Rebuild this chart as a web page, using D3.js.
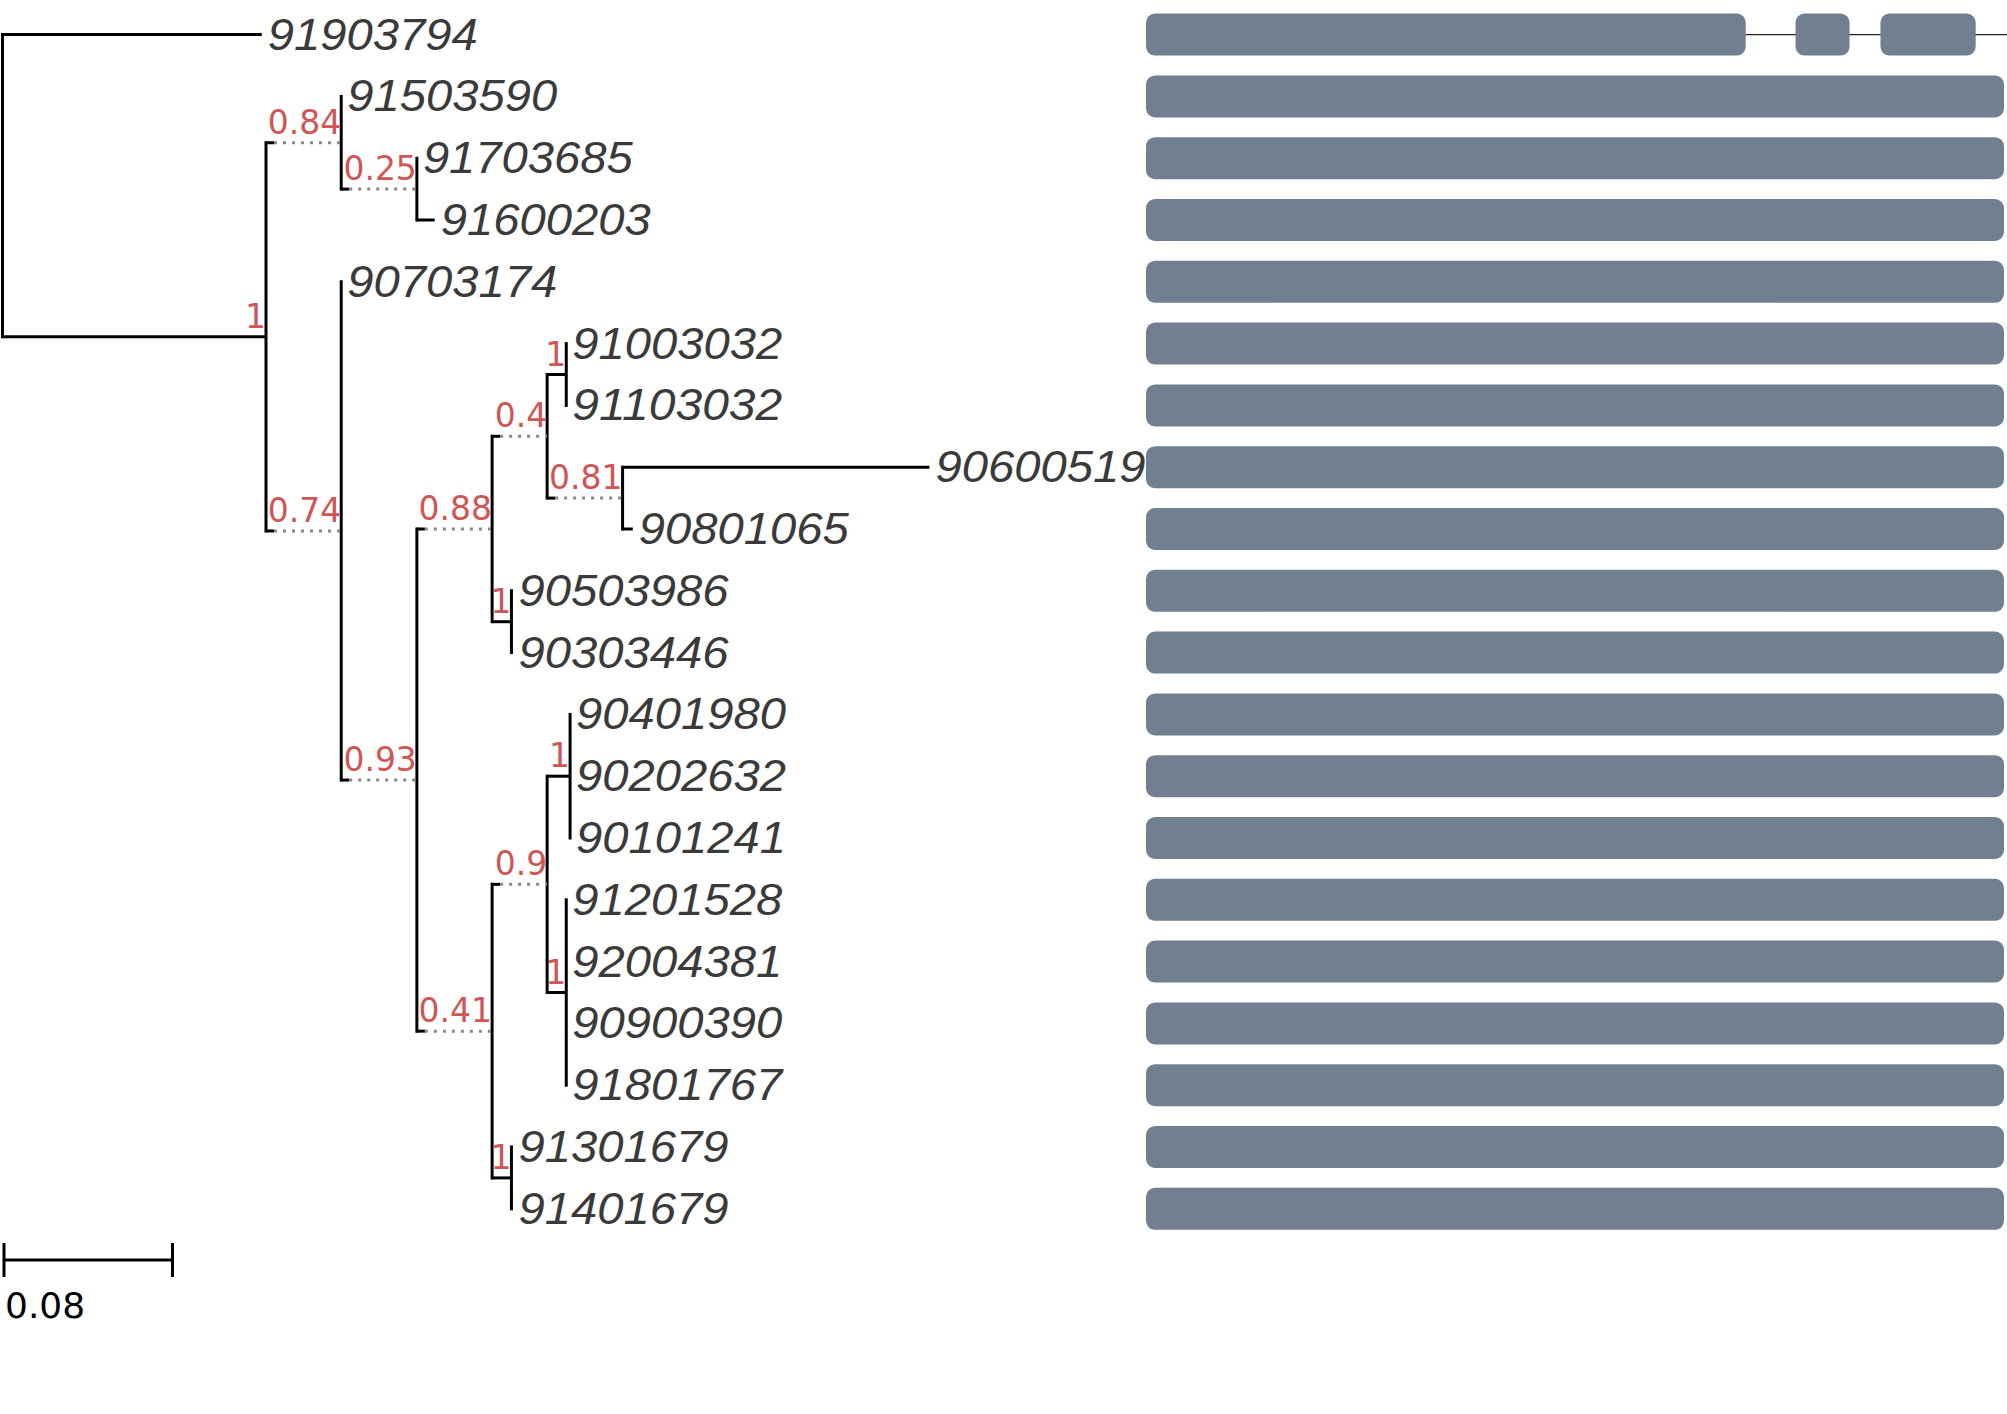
<!DOCTYPE html>
<html><head><meta charset="utf-8">
<script src="https://cdn.jsdelivr.net/npm/d3@7"></script>
<style>body{margin:0;background:#fff}</style>
</head><body>
<script>
// tree table: id, parent, branch length, support
const nodeIds = ["root","91903794","A","B","91503590","C","91703685","91600203","D","90703174","E","F","G","H","91003032","91103032","I","90600519","90801065","J","90503986","90303446","K","L","M","90401980","90202632","90101241","N","91201528","92004381","90900390","91801767","O","91301679","91401679"];
const parents = ["","root","root","A","B","B","C","C","A","D","D","E","F","G","H","H","G","I","I","F","J","J","E","K","L","M","M","M","L","N","N","N","N","K","O","O"];
const branchLengths = [0,0.122,0.124,0.0354,0,0.0356,0,0.0084,0.0354,0,0.0356,0.0354,0.0259,0.009,0,0,0.0355,0.1444,0.0048,0.0091,0.0005,0.0005,0.0354,0.0259,0.0108,0,0,0,0.009,0,0,0,0,0.0091,0.0005,0.0005];
const supports = {A:"1",B:"0.84",C:"0.25",D:"0.74",E:"0.93",F:"0.88",G:"0.4",H:"1",I:"0.81",J:"1",K:"0.41",L:"0.9",M:"1",N:"1",O:"1"};
// domain bars (sequence positions, length 1000)
const seqLength = 1000;
const firstRowSegments = [[0,699],[757,820],[856,967]];
const scaleBarValue = 0.08;

const W = 2007, H = 1414;
const svg = d3.select("body").append("svg").attr("width", W).attr("height", H);

const table = nodeIds.map((id, i) => ({id, parent: parents[i] || null, len: branchLengths[i]}));
const root = d3.stratify().id(d => d.id).parentId(d => d.parent)(table);
root.eachBefore(n => { n.dist = n.parent ? n.parent.dist + n.data.len : 0; });

const leaves = root.leaves();
const y = d3.scalePoint().domain(leaves.map(d => d.id)).range([34.6, 34.6 + 61.8 * (leaves.length - 1)]);
const x = d3.scaleLinear().domain([0, scaleBarValue]).range([2.5, 2.5 + 170]);

root.eachAfter(n => {
  n.py = n.children ? (n.children[0].py + n.children[n.children.length - 1].py) / 2 : y(n.id);
});

const g = svg.append("g");
// vertical lines
root.descendants().filter(n => n.children).forEach(n => {
  g.append("line").attr("x1", x(n.dist)).attr("x2", x(n.dist))
    .attr("y1", n.children[0].py - 1.5).attr("y2", n.children[n.children.length - 1].py + 1.5)
    .attr("stroke", "#000").attr("stroke-width", 3);
});
// horizontal branches
root.descendants().filter(n => n.parent).forEach(n => {
  const x0 = x(n.parent.dist), x1 = x(n.dist);
  const s = supports[n.id];
  if (s && s !== "1") {
    g.append("line").attr("x1", x0).attr("x2", x0 + 8).attr("y1", n.py).attr("y2", n.py)
      .attr("stroke", "#000").attr("stroke-width", 3);
    g.append("line").attr("x1", x0 + 8).attr("x2", x1).attr("y1", n.py).attr("y2", n.py)
      .attr("stroke", "#888").attr("stroke-width", 3).attr("stroke-dasharray", "3,6");
  } else {
    g.append("line").attr("x1", x0).attr("x2", x1).attr("y1", n.py).attr("y2", n.py)
      .attr("stroke", "#000").attr("stroke-width", 3);
  }
  if (s) {
    g.append("text").attr("x", x1).attr("y", n.py - 9).attr("text-anchor", "end")
      .attr("font-family", "DejaVu Sans").attr("font-size", 33).attr("fill", "#d05555").text(s);
  }
});
// tip labels
leaves.forEach(n => {
  g.append("text").attr("x", x(n.dist) + 6).attr("y", n.py + 15)
    .attr("font-family", "Liberation Sans").attr("font-style", "italic")
    .attr("font-size", 45).attr("fill", "#3a3a3a")
    .attr("textLength", 210).attr("lengthAdjust", "spacingAndGlyphs").text(n.id);
});

// domain bars
const bx = d3.scaleLinear().domain([0, seqLength]).range([1146, 2004]);
leaves.forEach((n, i) => {
  const segs = i === 0 ? firstRowSegments : [[0, seqLength]];
  if (i === 0) {
    svg.append("line").attr("x1", bx(0)).attr("x2", W).attr("y1", n.py).attr("y2", n.py)
      .attr("stroke", "#222").attr("stroke-width", 1.2);
  }
  segs.forEach(s => {
    svg.append("rect").attr("x", bx(s[0])).attr("width", bx(s[1]) - bx(s[0]))
      .attr("y", n.py - 21).attr("height", 42).attr("rx", 9)
      .attr("fill", "#708090");
  });
});

// scale bar
const sb = svg.append("g");
sb.append("line").attr("x1", x(0) + 1.5).attr("x2", x(scaleBarValue)).attr("y1", 1260).attr("y2", 1260).attr("stroke", "#000").attr("stroke-width", 3);
[0, scaleBarValue].forEach(v => sb.append("line").attr("x1", v ? x(v) : x(0) + 1.5).attr("x2", v ? x(v) : x(0) + 1.5)
  .attr("y1", 1243).attr("y2", 1277).attr("stroke", "#000").attr("stroke-width", 3));
sb.append("text").attr("x", 5).attr("y", 1318).attr("font-family", "DejaVu Sans").attr("font-size", 36).attr("fill", "#000").text(String(scaleBarValue));
</script>
</body></html>
